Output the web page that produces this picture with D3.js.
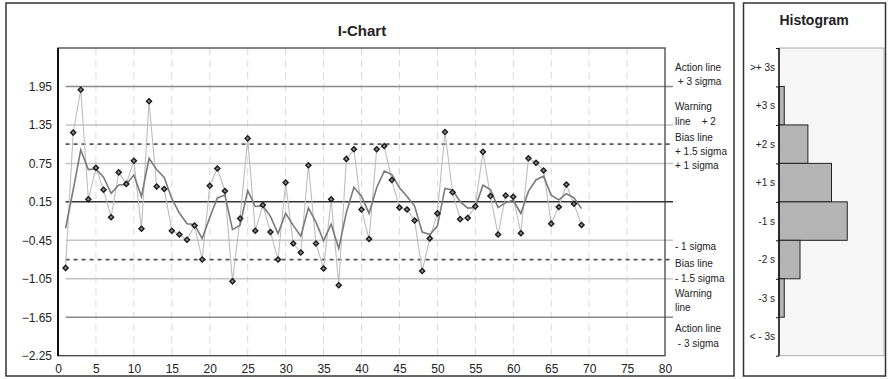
<!DOCTYPE html>
<html>
<head>
<meta charset="utf-8">
<script src="https://d3js.org/d3.v7.min.js"></script>
<style>
  body { margin: 0; background: #fff; }
  text { font-family: "Liberation Sans", Arial, sans-serif; fill: #222; }
</style>
</head>
<body>
<svg width="888" height="379"></svg>
<script>
// individual values, sample 1..69
const values = [-0.88, 1.23, 1.90, 0.19, 0.68, 0.34, -0.09, 0.61, 0.43, 0.79,
  -0.27, 1.72, 0.39, 0.35, -0.30, -0.36, -0.44, -0.22, -0.75, 0.40,
  0.67, 0.32, -1.09, -0.11, 1.14, -0.30, 0.10, -0.32, -0.75, 0.45,
  -0.50, -0.64, 0.72, -0.50, -0.89, 0.19, -1.15, 0.82, 0.97, 0.03,
  -0.43, 0.97, 1.02, 0.49, 0.06, 0.03, -0.14, -0.93, -0.42, -0.03,
  1.24, 0.30, -0.12, -0.10, 0.08, 0.93, 0.24, -0.36, 0.25, 0.23,
  -0.34, 0.83, 0.76, 0.64, -0.19, 0.07, 0.42, 0.12, -0.21];

// smoothed line
const smooth = [-0.262, 0.335, 0.961, 0.653, 0.664, 0.534, 0.284, 0.414, 0.420, 0.568,
  0.233, 0.828, 0.653, 0.532, 0.199, -0.025, -0.191, -0.203, -0.422, -0.093,
  0.212, 0.255, -0.283, -0.214, 0.328, 0.077, 0.086, -0.076, -0.346, -0.028,
  -0.217, -0.386, 0.056, -0.166, -0.456, -0.198, -0.579, -0.019, 0.377, 0.238,
  -0.029, 0.371, 0.631, 0.575, 0.369, 0.233, 0.084, -0.322, -0.361, -0.229,
  0.359, 0.335, 0.153, 0.052, 0.063, 0.410, 0.342, 0.061, 0.137, 0.174,
  -0.032, 0.313, 0.492, 0.551, 0.255, 0.181, 0.277, 0.214, 0.044];

const yTicks = [-2.25, -1.65, -1.05, -0.45, 0.15, 0.75, 1.35, 1.95];
const xTicks = [0, 5, 10, 15, 20, 25, 30, 35, 40, 45, 50, 55, 60, 65, 70, 75, 80];

// control lines
const limitLines = [
  { v: 1.95, kind: "action" }, { v: 1.35, kind: "sigma" }, { v: 1.05, kind: "bias" },
  { v: 0.75, kind: "sigma" }, { v: 0.15, kind: "mean" }, { v: -0.45, kind: "sigma" },
  { v: -0.75, kind: "bias" }, { v: -1.05, kind: "sigma" }, { v: -1.65, kind: "action" }
];

// right-hand notes: [text, value position]
const notes = [
  ["Action line", 2.25], [" + 3 sigma", 2.03],
  ["Warning", 1.63], ["line    + 2", 1.41],
  ["Bias line", 1.16], ["+ 1.5 sigma", 0.94], ["+ 1 sigma", 0.71],
  ["- 1 sigma", -0.55], ["Bias line", -0.81], ["- 1.5 sigma", -1.04],
  ["Warning", -1.28], ["line", -1.50],
  ["Action line", -1.83], [" - 3 sigma", -2.06]
];

// histogram
const histLabels = [">+ 3s", "+3 s", "+2 s", "+1 s", "-1 s", "-2 s", "-3 s", "< - 3s"];
const histCounts = [0, 2, 11, 20, 26, 8, 2, 0];
const histEdges = [2.55, 1.95, 1.35, 0.75, 0.15, -0.45, -1.05, -1.65, -2.25];

const svg = d3.select("svg");

// panels
svg.append("rect").attr("x", 6).attr("y", 3).attr("width", 728).attr("height", 373)
  .attr("fill", "#fff").attr("stroke", "#333").attr("stroke-width", 1.5);
svg.append("rect").attr("x", 743.5).attr("y", 3).attr("width", 142).attr("height", 373)
  .attr("fill", "#fff").attr("stroke", "#333").attr("stroke-width", 1.5);

const x = d3.scaleLinear().domain([0, 80]).range([58, 665]);
const y = d3.scaleLinear().domain([-2.25, 2.55]).range([355.7, 48]);

// title
svg.append("text").attr("x", 362).attr("y", 36).attr("text-anchor", "middle")
  .style("font-size", "15px").style("font-weight", "bold").text("I-Chart");

// vertical dashed grid
svg.append("g").selectAll("line")
  .data(xTicks.filter(d => d > 0 && d < 80))
  .join("line")
  .attr("x1", d => x(d)).attr("x2", d => x(d))
  .attr("y1", y(2.55)).attr("y2", y(-2.25))
  .attr("stroke", "#d8d8d8").attr("stroke-width", 1)
  .attr("stroke-dasharray", "7,5");

// control lines
const lineStyle = {
  action: { c: "#8a8a8a", w: 1.5, d: null },
  sigma: { c: "#c4c4c4", w: 1.5, d: null },
  bias: { c: "#555", w: 1.8, d: "4,4" },
  mean: { c: "#333", w: 1.5, d: null }
};
svg.append("g").selectAll("line")
  .data(limitLines)
  .join("line")
  .attr("x1", x(1)).attr("x2", 673)
  .attr("y1", d => y(d.v)).attr("y2", d => y(d.v))
  .attr("stroke", d => lineStyle[d.kind].c)
  .attr("stroke-width", d => lineStyle[d.kind].w)
  .attr("stroke-dasharray", d => lineStyle[d.kind].d);

// individual values line
svg.append("path")
  .datum(values)
  .attr("fill", "none").attr("stroke", "#bdbdbd").attr("stroke-width", 1.1)
  .attr("d", d3.line().x((d, i) => x(i + 1)).y(d => y(d)));

// smoothed line
svg.append("path")
  .datum(smooth)
  .attr("fill", "none").attr("stroke", "#7a7a7a").attr("stroke-width", 1.6)
  .attr("d", d3.line().x((d, i) => x(i + 1)).y(d => y(d)));

// markers (small rotated squares)
svg.append("g").selectAll("path")
  .data(values)
  .join("path")
  .attr("transform", (d, i) => `translate(${x(i + 1)},${y(d)}) rotate(45)`)
  .attr("d", d3.symbol().type(d3.symbolSquare).size(13))
  .attr("fill", "#8c8c8c").attr("stroke", "#1a1a1a").attr("stroke-width", 1.4);

// plot frame
svg.append("rect").attr("x", 58).attr("y", 48).attr("width", 607).attr("height", 307.7)
  .attr("fill", "none").attr("stroke", "#444").attr("stroke-width", 1.3);
svg.append("line").attr("x1", 58).attr("x2", 58).attr("y1", 48).attr("y2", 356)
  .attr("stroke", "#111").attr("stroke-width", 2);

// axes
const yAxis = svg.append("g").attr("transform", "translate(58,0)")
  .call(d3.axisLeft(y).tickValues(yTicks).tickSize(0).tickPadding(6).tickFormat(d3.format(".2f")));
yAxis.select(".domain").remove();
yAxis.selectAll("text").style("font-size", "12px").style("font-family", "Liberation Sans, Arial, sans-serif").attr("fill", "#222");

const xAxis = svg.append("g").attr("transform", "translate(0,356)")
  .call(d3.axisBottom(x).tickValues(xTicks).tickSize(0).tickPadding(8));
xAxis.select(".domain").remove();
xAxis.selectAll("text").style("font-size", "12px").style("font-family", "Liberation Sans, Arial, sans-serif").attr("fill", "#222");

// right notes
svg.append("g").selectAll("text")
  .data(notes)
  .join("text")
  .attr("x", 675).attr("y", d => y(d[1]))
  .attr("dy", "0.35em")
  .style("font-size", "10px").attr("fill", "#333")
  .style("white-space", "pre")
  .text(d => d[0]);

// ---- histogram ----
svg.append("text").attr("x", 814).attr("y", 25).attr("text-anchor", "middle")
  .style("font-size", "14px").style("font-weight", "bold").text("Histogram");

const hx = d3.scaleLinear().domain([0, 40]).range([779, 884]);

svg.append("rect").attr("x", 779).attr("y", y(2.55)).attr("width", 105).attr("height", y(-2.25) - y(2.55))
  .attr("fill", "#f6f6f6").attr("stroke", "#aaa").attr("stroke-width", 1);

const bars = histCounts.map((c, i) => ({ c, top: histEdges[i], bot: histEdges[i + 1], label: histLabels[i] }));
svg.append("g").selectAll("rect")
  .data(bars.filter(b => b.c > 0))
  .join("rect")
  .attr("x", hx(0))
  .attr("y", b => y(b.top))
  .attr("width", b => hx(b.c) - hx(0))
  .attr("height", b => y(b.bot) - y(b.top))
  .attr("fill", "#b4b4b4").attr("stroke", "#222").attr("stroke-width", 1);

svg.append("line").attr("x1", 779).attr("x2", 779).attr("y1", y(2.55)).attr("y2", y(-2.25))
  .attr("stroke", "#111").attr("stroke-width", 1.5);

const hAxis = svg.append("g").attr("transform", "translate(779,0)")
  .call(d3.axisLeft(y).tickValues(histEdges).tickSize(3).tickFormat(""));
hAxis.select(".domain").remove();
hAxis.selectAll("line").attr("stroke", "#111");

svg.append("g").selectAll("text")
  .data(bars)
  .join("text")
  .attr("x", 775).attr("y", b => (y(b.top) + y(b.bot)) / 2)
  .attr("dy", "0.35em").attr("text-anchor", "end")
  .style("font-size", "10px").attr("fill", "#333")
  .style("white-space", "pre")
  .text(b => b.label);
</script>
</body>
</html>
